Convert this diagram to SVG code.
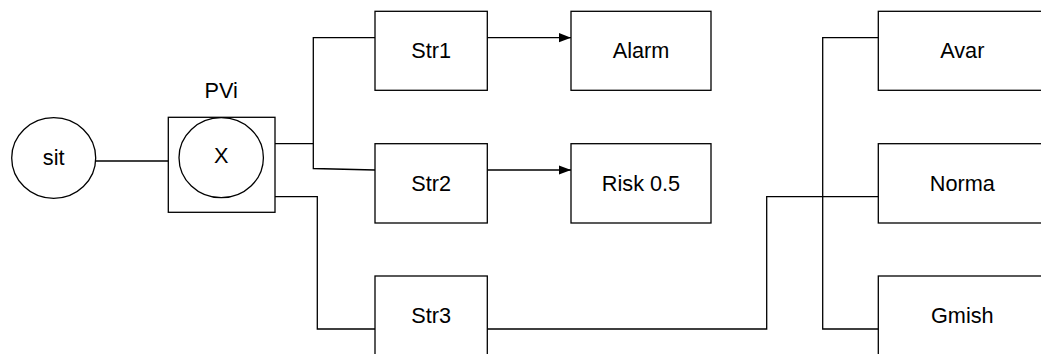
<svg xmlns="http://www.w3.org/2000/svg" width="1041" height="354" viewBox="0 0 1041 354">
<defs>
<style>
.b{fill:#fff;stroke:#000;stroke-width:1.3}
.c{fill:none;stroke:#000;stroke-width:1.3}
.t{font-family:"Liberation Sans",Arial,sans-serif;font-size:21.7px;fill:#000;text-anchor:middle}
</style>
<marker id="ah" markerWidth="12" markerHeight="10" refX="12" refY="5" orient="auto" markerUnits="userSpaceOnUse">
<path d="M0,0.4 L12,5 L0,9.6 Z" fill="#000"/>
</marker>
</defs>
<g id="connectors">
<path class="c" d="M95.7,161 L168.3,161"/>
<path class="c" d="M275,143.7 L313.3,143.7 L313.3,37.7 L375,37.7"/>
<path class="c" d="M313.3,143.7 L313.3,168.5 L375,170"/>
<path class="c" d="M275,196.7 L317.3,196.7 L317.3,329 L375,329"/>
<path class="c" d="M487.3,37.7 L571,37.7" marker-end="url(#ah)"/>
<path class="c" d="M487.3,170 L571,170" marker-end="url(#ah)"/>
<path class="c" d="M487.3,329 L766.7,329 L766.7,196.7 L878.3,196.7"/>
<path class="c" d="M878.3,37.7 L822.7,37.7 L822.7,329 L878.3,329"/>
</g>
<g id="sit">
<ellipse class="b" cx="53.7" cy="158" rx="42" ry="40.3"/>
<text class="t" x="53.7" y="165">sit</text>
</g>
<g id="PVi">
<rect class="b" x="168.3" y="117.3" width="106.7" height="95"/>
<ellipse class="b" cx="221.2" cy="157.7" rx="42.2" ry="40"/>
<text class="t" x="221.2" y="163.3">X</text>
<text class="t" x="221.2" y="98.3">PVi</text>
</g>
<g id="Str1">
<rect class="b" x="375" y="11.3" width="112.3" height="79"/>
<text class="t" x="431.2" y="58.3">Str1</text>
</g>
<g id="Str2">
<rect class="b" x="375" y="143.7" width="112.3" height="79.3"/>
<text class="t" x="431.2" y="190.7">Str2</text>
</g>
<g id="Str3">
<rect class="b" x="375" y="276" width="112.3" height="79.3"/>
<text class="t" x="431.2" y="322.7">Str3</text>
</g>
<g id="Alarm">
<rect class="b" x="571" y="11.3" width="140" height="79"/>
<text class="t" x="641" y="58.3">Alarm</text>
</g>
<g id="Risk">
<rect class="b" x="571" y="143.7" width="140" height="79.3"/>
<text class="t" x="641" y="190.7">Risk 0.5</text>
</g>
<g id="Avar">
<rect class="b" x="878.3" y="11.3" width="168" height="79"/>
<text class="t" x="962.3" y="58.3">Avar</text>
</g>
<g id="Norma">
<rect class="b" x="878.3" y="143.7" width="168" height="79.3"/>
<text class="t" x="962.3" y="190.7">Norma</text>
</g>
<g id="Gmish">
<rect class="b" x="878.3" y="276" width="168" height="79.3"/>
<text class="t" x="962.3" y="322.7">Gmish</text>
</g>
</svg>
